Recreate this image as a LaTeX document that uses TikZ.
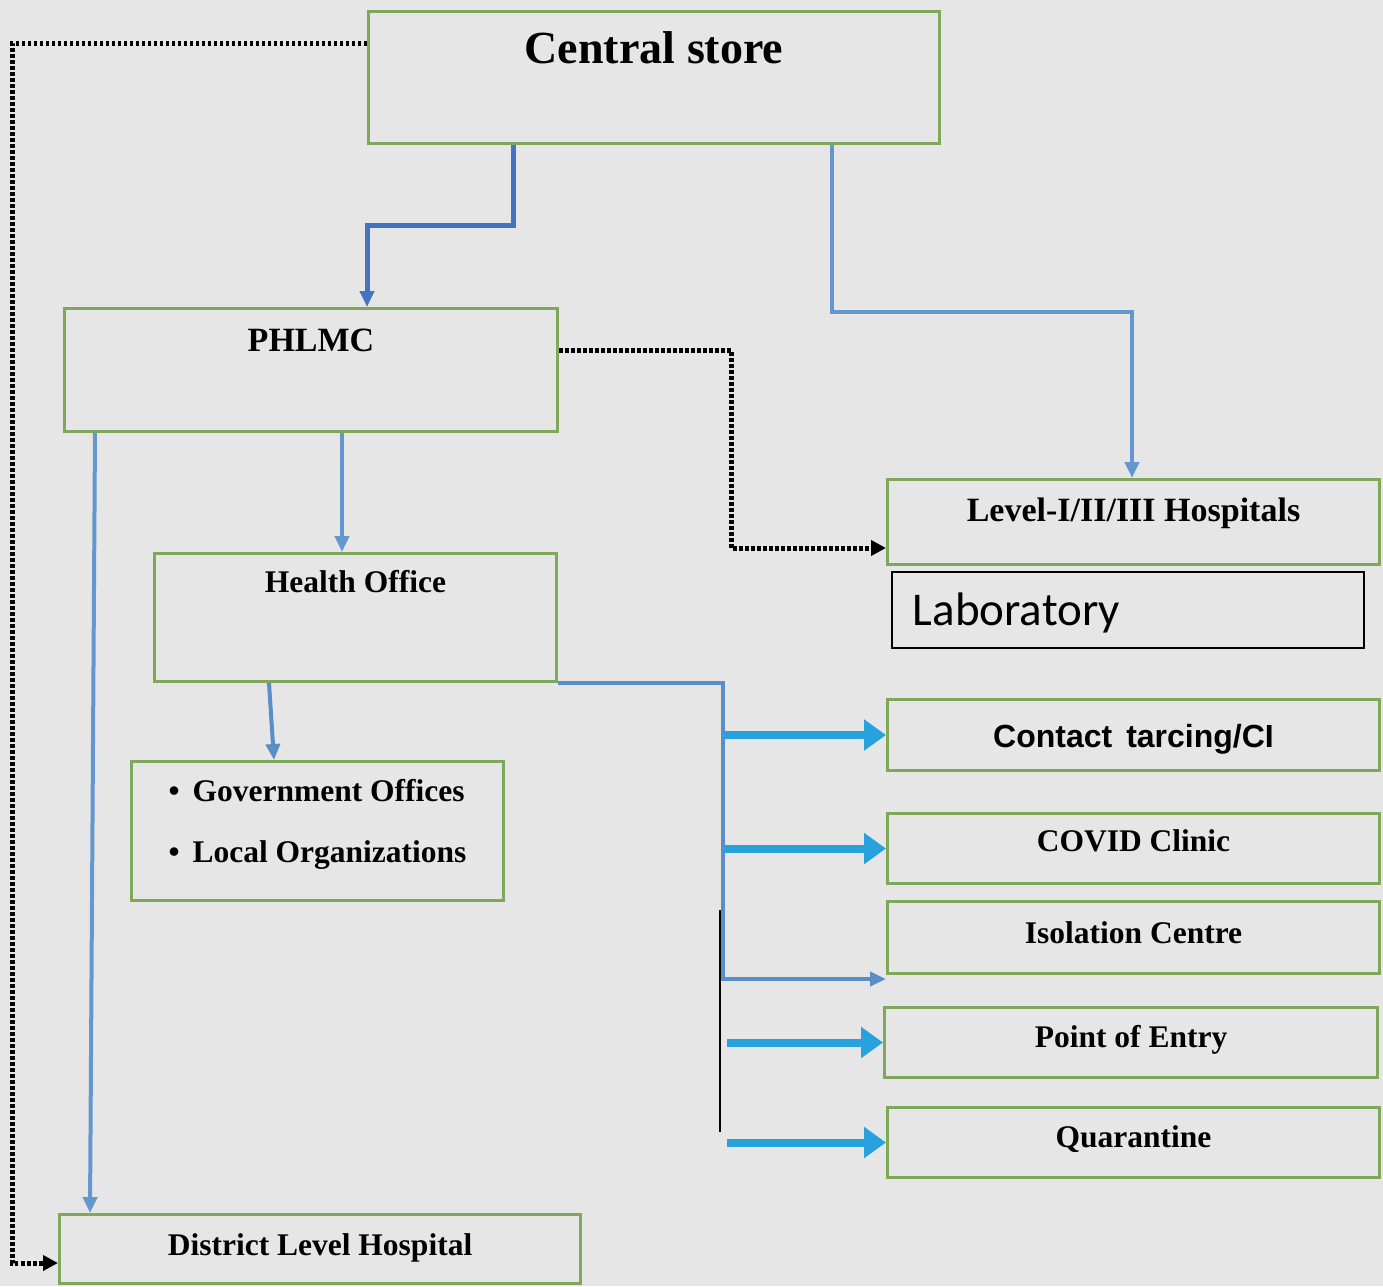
\documentclass[tikz,border=0pt]{standalone}
\usepackage{fontspec}
\setmainfont{Liberation Serif}
\newfontfamily\arialfont{Liberation Sans}
\newfontfamily\calibrifont{Carlito}
\usetikzlibrary{positioning,arrows,arrows.meta,calc}
\definecolor{bggray}{HTML}{E6E6E6}
\definecolor{boxgreen}{HTML}{7FA85A}
\definecolor{darkblue}{HTML}{4472C4}
\definecolor{midblue}{HTML}{6497D0}
\definecolor{steelblue}{HTML}{5A8EC8}
\definecolor{brightblue}{HTML}{27A2DC}
\tikzset{
	basic/.style  = {draw=boxgreen, line width=3pt, rectangle, inner sep=0pt, anchor=north west,
		font=\bfseries\fontsize{31.5}{36}\selectfont},
	head/.style   = {basic, font=\bfseries\fontsize{34}{40}\selectfont},
	unit/.style   = {basic, font=\arialfont\bfseries\fontsize{32}{38}\selectfont},
	note/.style   = {draw=black, line width=1.5pt, rectangle, inner xsep=21pt, inner ysep=0pt,
		anchor=north west, align=left, font=\calibrifont\fontsize{47}{56}\selectfont},
	box size/.style n args={3}{minimum width=#1pt, text height=#2pt, text depth=#3pt},
	link/.style   = {line width=4pt, ->},
	fat arrow/.style = {brightblue, line width=8pt, -{Triangle[length=22pt,width=30pt]}},
	dotline/.style = {black, line width=5pt, dash pattern=on 3.5pt off 2.5pt,
		-{Triangle[length=15pt,width=15pt]}}
}
\begin{document}
\begin{tikzpicture}[x=1pt, y=-1pt, >={Triangle[length=16pt,width=14pt]}]
	
	\path[use as bounding box, fill=bggray] (0,0) rectangle (1383,1286);
	
	% top of the chain
	\node[head, font=\bfseries\fontsize{46}{54}\selectfont, box size={571}{52}{80}] (central) at (367,10) {Central store};
	\node[head, box size={493}{43}{80}] (phlmc) at (63,307) {PHLMC};
	\node[head, box size={492}{42}{43}] (hosp) at (886,478) {Level-I/II/III Hospitals};
	\node[note, text width=430pt, text height=54pt, text depth=22pt] (lab) at (891,571) {Laboratory};
	% the health office and its partners
	\node[basic, box size={402}{39}{89}] (health) at (153,552) {Health Office};
	\node[basic, minimum width=372pt, minimum height=139pt, align=left,
		font=\bfseries\fontsize{31.5}{61}\selectfont] (gov) at (130,760)
		{\textbullet\hspace{13pt}Government Offices\\\textbullet\hspace{13pt}Local Organizations\rule[-20pt]{0pt}{20pt}};
	% the field units
	\node[unit, box size={492}{48}{23}] (contact) at (886,698) {Contact\hspace{14pt}tarcing/CI};
	\node[basic, box size={492}{38}{32}] (covid) at (886,812) {COVID Clinic};
	\node[basic, box size={492}{42}{30}] (isolation) at (886,900) {Isolation Centre};
	\node[basic, box size={493}{40}{30}] (entry) at (883,1006) {Point of Entry};
	\node[basic, box size={492}{40}{30}] (quarantine) at (886,1106) {Quarantine};
	\node[basic, box size={521}{41}{28}] (district) at (58,1213) {District Level Hospital};
	
	% supply lines
	\draw[link, darkblue, line width=5pt] ([xshift=146pt]central.south west) -- ++(0,80) -| ([xshift=304pt]phlmc.north west);
	\draw[link, midblue] ([xshift=465pt]central.south west) -- ++(0,167) -| ([xshift=246pt]hosp.north west);
	\draw[link, midblue] ([xshift=32pt]phlmc.south west) -- ([xshift=32pt]district.north west);
	\draw[link, midblue] ([xshift=279pt]phlmc.south west) -- ([xshift=189pt]health.north west);
	\draw[link, steelblue] ([xshift=116pt]health.south west) -- ([xshift=144pt]gov.north west);
	\draw[dotline] ([yshift=-33pt]central.north west) -- ++(-355,0) |- ([yshift=-14pt]district.west);
	\draw[dotline] ([yshift=20pt]phlmc.east) -- ++(172,0) |- ([yshift=-26pt]hosp.west);
	
	% distribution spine
	\coordinate (spine) at (723,681);
	\coordinate (spine2) at (727,681);
	\coordinate (iso) at ([yshift=-4pt]isolation.south west);
	\coordinate (bar top) at (720,910);
	\coordinate (bar bottom) at (720,1132);
	\draw[link, steelblue] (health.south east) -| (spine |- iso) -- (iso);
	\draw[black, line width=2pt] (bar top) -- (bar bottom);
	\foreach \unit in {contact,covid}
	\draw[fat arrow] (spine |- \unit.west) -- (\unit.west);
	\foreach \unit in {entry,quarantine}
	\draw[fat arrow] (spine2 |- \unit.west) -- (\unit.west);
\end{tikzpicture}
\end{document}
